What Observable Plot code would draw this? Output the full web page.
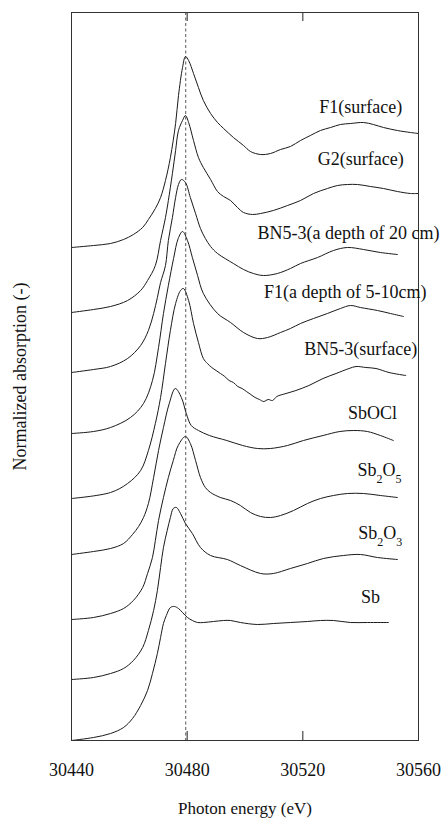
<!DOCTYPE html>
<html><head><meta charset="utf-8">
<script src="https://cdn.jsdelivr.net/npm/d3@7"></script>
<script src="https://cdn.jsdelivr.net/npm/@observablehq/plot@0.6"></script>
<style>html,body{margin:0;padding:0;background:#fff;} svg text{font-family:'Liberation Serif','Times New Roman',serif;}</style>
</head><body><div id="chart"></div>
<script>
// Sb K-edge XANES spectra: [photon energy (eV), normalized absorption]
const F1_surface = [[30440,0],[30447.6,0.02],[30453.5,0.04],[30458,0.08],[30461.4,0.13],[30464.6,0.20],[30466.6,0.28],[30469,0.39],[30470.8,0.50],[30472.5,0.67],[30474.2,0.90],[30476,1.24],[30477,1.52],[30478.4,1.80],[30479.4,1.91],[30480.5,1.87],[30482.2,1.74],[30483.9,1.60],[30485.6,1.47],[30488.1,1.34],[30490.5,1.25],[30492.6,1.19],[30496,1.10],[30499.5,1.02],[30501.9,0.96],[30505.4,0.93],[30508.8,0.94],[30512.3,0.98],[30515.7,1.01],[30519.2,1.07],[30522.6,1.12],[30526.1,1.17],[30529.6,1.20],[30533,1.23],[30536.5,1.24],[30541,1.25],[30544.4,1.23],[30547.9,1.20],[30552.7,1.17],[30557.2,1.15],[30560,1.14]];
const G2_surface = [[30440,0],[30447.6,0.03],[30453.5,0.06],[30459.4,0.12],[30463.9,0.22],[30466.3,0.32],[30469,0.47],[30470.8,0.72],[30472.5,0.95],[30473.5,1.12],[30474.9,1.39],[30476,1.62],[30477,1.82],[30478.4,1.92],[30479.4,1.97],[30480.5,1.90],[30482.2,1.72],[30483.9,1.55],[30485.6,1.45],[30488.1,1.33],[30490.5,1.21],[30492.6,1.16],[30495,1.12],[30497.4,1.05],[30499.5,1.00],[30502.6,0.98],[30505.4,0.99],[30509.8,1.02],[30514.7,1.07],[30519.2,1.12],[30523.7,1.19],[30528.5,1.24],[30532,1.27],[30535.4,1.28],[30538.9,1.28],[30543.4,1.26],[30547.9,1.24],[30552.7,1.21],[30557.2,1.19],[30560,1.19]];
const BN5_3_20cm = [[30440,0],[30447.6,0.03],[30453.5,0.06],[30459.4,0.14],[30463.9,0.27],[30466.6,0.42],[30468.4,0.59],[30469.7,0.75],[30470.8,0.90],[30472.5,1.07],[30473.5,1.32],[30474.9,1.55],[30476,1.75],[30477,1.88],[30478,1.93],[30479.4,1.90],[30481.1,1.75],[30482.9,1.59],[30484.6,1.44],[30486.3,1.34],[30488.1,1.26],[30490.5,1.19],[30496,1.09],[30499.5,1.03],[30502.9,0.99],[30506.4,0.97],[30511.2,0.99],[30515.7,1.04],[30519.2,1.09],[30525.1,1.15],[30530.6,1.22],[30535.4,1.25],[30541,1.23],[30546.8,1.20],[30552.7,1.18]];
const F1_5_10cm = [[30440,0],[30447.6,0.02],[30453.5,0.06],[30460.4,0.16],[30464.9,0.30],[30468,0.53],[30470.1,0.86],[30471.8,1.20],[30473.5,1.48],[30475.3,1.75],[30476.9,1.95],[30478.4,2.02],[30480.1,1.93],[30481.8,1.76],[30483.6,1.58],[30485.6,1.40],[30490.5,1.20],[30495,1.11],[30499.5,1.01],[30504.3,0.95],[30507.8,0.96],[30512.3,1.01],[30515.7,1.05],[30519.2,1.10],[30523.7,1.15],[30528.5,1.20],[30533,1.25],[30536.5,1.28],[30539.9,1.26],[30545.8,1.23],[30550.3,1.20],[30554.8,1.17]];
const BN5_3_surface = [[30440,0],[30453.5,0.06],[30459.4,0.15],[30463.9,0.28],[30466.6,0.48],[30469,0.75],[30470.8,1.01],[30472.5,1.35],[30474.2,1.68],[30476,1.95],[30477.7,2.08],[30478.7,2.10],[30480.5,1.98],[30482.2,1.75],[30483.9,1.56],[30485.6,1.40],[30487,1.35],[30488.5,1.31],[30490,1.28],[30491.5,1.25],[30493,1.22],[30494.5,1.18],[30496,1.16],[30497.5,1.12],[30499,1.10],[30500.5,1.07],[30502,1.04],[30503.5,1.01],[30505,0.99],[30506.5,0.97],[30508,0.99],[30509.5,0.98],[30511,1.02],[30514.2,1.05],[30517.6,1.08],[30522.1,1.13],[30527,1.20],[30531.5,1.25],[30536,1.30],[30538.4,1.32],[30541.8,1.31],[30545.3,1.30],[30549.8,1.26],[30555.6,1.23]];
const SbOCl = [[30440,0],[30447.6,0.03],[30453.5,0.06],[30458,0.11],[30461.1,0.20],[30463.2,0.28],[30464.9,0.37],[30466.6,0.51],[30468.4,0.77],[30470.1,1.04],[30471.8,1.27],[30473.8,1.51],[30475.9,1.66],[30478,1.57],[30479.7,1.41],[30481.4,1.29],[30483.9,1.24],[30487.7,1.19],[30493.7,1.14],[30499.2,1.09],[30504.3,1.06],[30508.8,1.06],[30514.7,1.09],[30520.2,1.14],[30527,1.19],[30532.8,1.23],[30537.6,1.24],[30542.3,1.23],[30546.8,1.19],[30551.3,1.14]];
const Sb2O5 = [[30440,0],[30447.6,0.02],[30453.5,0.06],[30458,0.11],[30461.4,0.19],[30464.6,0.32],[30466.3,0.46],[30468,0.62],[30469,0.79],[30470.1,0.99],[30471.8,1.22],[30473.5,1.42],[30475.2,1.59],[30476.9,1.74],[30479.4,1.83],[30481.1,1.76],[30482.9,1.59],[30484.6,1.42],[30486.3,1.32],[30488.1,1.27],[30491.5,1.22],[30495,1.19],[30498.4,1.14],[30501.9,1.07],[30505.4,1.03],[30508.8,1.02],[30512.3,1.04],[30516.8,1.09],[30521.6,1.16],[30526.1,1.21],[30530.6,1.24],[30535.4,1.26],[30541,1.26],[30546.8,1.24],[30552.7,1.22]];
const Sb2O3 = [[30440,0],[30447.6,0.02],[30453.5,0.06],[30458,0.11],[30461.4,0.19],[30464.6,0.32],[30466.6,0.49],[30468.4,0.69],[30469.7,0.89],[30470.8,1.12],[30471.8,1.32],[30473.1,1.49],[30474.2,1.62],[30475.2,1.71],[30476.3,1.72],[30477.7,1.66],[30479.4,1.56],[30481.8,1.46],[30484.6,1.32],[30488.1,1.24],[30493.9,1.20],[30498.4,1.14],[30505.4,1.06],[30509.8,1.06],[30515.7,1.11],[30521.6,1.16],[30527.1,1.21],[30534,1.24],[30539.9,1.25],[30545.8,1.22],[30552.7,1.20]];
const Sb = [[30440,0],[30447.6,0.03],[30453.5,0.07],[30458,0.13],[30461.1,0.22],[30463.9,0.35],[30466.3,0.50],[30468,0.67],[30469.7,0.87],[30470.8,1.03],[30471.8,1.17],[30472.8,1.25],[30474.2,1.33],[30475.6,1.34],[30477,1.32],[30478.4,1.28],[30480.1,1.23],[30481.8,1.20],[30483.6,1.18],[30485.6,1.18],[30489.1,1.19],[30492.6,1.20],[30495,1.20],[30498.4,1.18],[30504.3,1.16],[30509.8,1.17],[30515.7,1.18],[30521.6,1.19],[30526.1,1.20],[30530.6,1.20],[30536.5,1.18],[30542.4,1.18],[30549.6,1.18]];

const names = ["F1(surface)", "G2(surface)", "BN5-3(a depth of 20 cm)", "F1(a depth of 5-10cm)", "BN5-3(surface)", "SbOCl", "Sb_2O_5", "Sb_2O_3", "Sb"];
const offsets = [4.93, 4.28, 3.68, 3.07, 2.42, 1.86, 1.21, 0.61, 0];
const labelE = [30540, 30540, 30535.8, 30534.7, 30540, 30544.1, 30546.5, 30546.8, 30543.4];
const labelY = [6.33, 5.81, 5.07, 4.48, 3.91, 3.27, 2.70, 2.07, 1.43];
const xTicks = [30440, 30480, 30520, 30560];
const innerTicks = [30480, 30520];
const referenceEnergy = [30479.5];
const xTitle = "Photon energy (eV)";
const yTitle = "Normalized absorption (-)";

const spectra = [F1_surface, G2_surface, BN5_3_20cm, F1_5_10cm, BN5_3_surface, SbOCl, Sb2O5, Sb2O3, Sb];
const rows = spectra.flatMap((pts, i) => pts.map(([E, mu]) => ({name: names[i], E, Y: mu + offsets[i]})));
const labels = names.map((n, i) => ({text: n, E: labelE[i], Y: labelY[i]}));

const W = 446, H = 819, mT = 12, mB = 79, mL = 71, mR = 28;
const innerH = H - mT - mB;
const tickLen = 9;
const serif = "'Liberation Serif','Times New Roman',serif";

const chart = Plot.plot({
  width: W, height: H,
  marginTop: mT, marginBottom: mB, marginLeft: mL, marginRight: mR,
  style: `font-family: ${serif}; background: #fff; color: #111; overflow: visible;`,
  x: {domain: [30440, 30560]},
  y: {domain: [0, 7.28], axis: null},
  marks: [
    Plot.ruleX(referenceEnergy, {stroke: "#444", strokeWidth: 0.9, strokeDasharray: "3,2.5"}),
    Plot.line(rows, {x: "E", y: "Y", z: "name", stroke: "#1a1a1a", strokeWidth: 1, curve: "catmull-rom"}),
    Plot.ruleX(innerTicks, {insetTop: innerH - tickLen, stroke: "#222"}),
    Plot.ruleX(innerTicks, {insetBottom: innerH - tickLen, stroke: "#222"}),
    Plot.frame({stroke: "#333", strokeWidth: 1}),
    Plot.axisX(xTicks, {tickSize: 0, tickPadding: 23, fontSize: 18, fontFamily: serif, tickFormat: d => String(d), label: null, fill: "#111"}),
    Plot.text(labels, {x: "E", y: "Y", text: "text", fontSize: 18, fontFamily: serif, textAnchor: "middle", lineAnchor: "middle", fill: "#111"}),
    Plot.text([xTitle], {text: d => d, frameAnchor: "bottom", dy: 68, lineAnchor: "middle", textAnchor: "middle", fontSize: 17, fontFamily: serif, fill: "#111"}),
    Plot.text([yTitle], {text: d => d, frameAnchor: "left", dx: -51, rotate: -90, textAnchor: "middle", lineAnchor: "middle", fontSize: 18, fontFamily: serif, fill: "#111"})
  ]
});

// render "_n" as subscripts (Sb2O5, Sb2O3)
const NS = "http://www.w3.org/2000/svg";
chart.querySelectorAll("text").forEach(t => {
  const s = t.textContent;
  if (!s.includes("_")) return;
  t.textContent = "";
  let shifted = false;
  s.split(/(_\d)/).filter(Boolean).forEach(p => {
    const ts = document.createElementNS(NS, "tspan");
    if (p.startsWith("_")) {
      ts.textContent = p.slice(1);
      ts.setAttribute("font-size", "12");
      ts.setAttribute("dy", shifted ? "0" : "7");
      shifted = true;
    } else {
      ts.textContent = p;
      if (shifted) { ts.setAttribute("dy", "-7"); shifted = false; }
    }
    t.appendChild(ts);
  });
});

document.getElementById("chart").appendChild(chart);
</script>
</body></html>
